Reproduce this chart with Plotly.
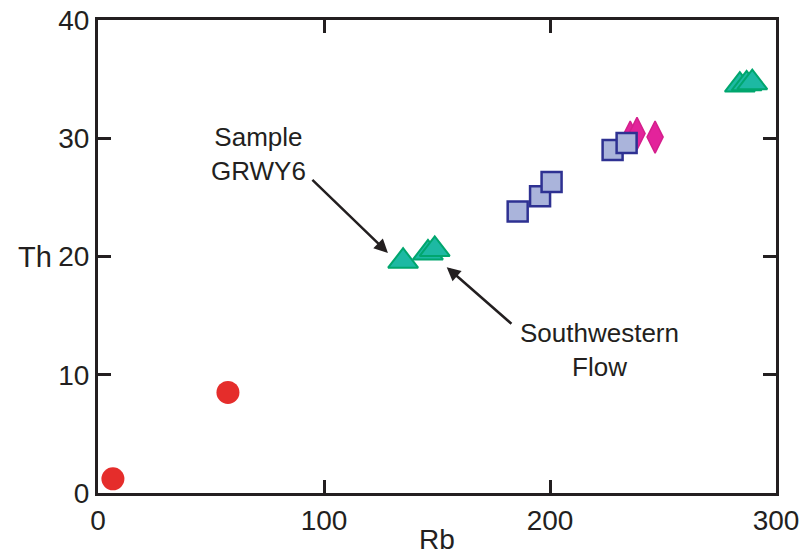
import plotly.graph_objects as go

# Data
circle_rb = [6.6, 57.5]
circle_th = [1.2, 8.5]

tri_rb = [135, 146, 149, 284, 287, 289.5]
tri_th = [19.6, 20.3, 20.6, 34.5, 34.6, 34.7]

diam_rb = [235.5, 238.5, 246.5]
diam_th = [30.1, 30.4, 30.1]

sq_rb = [185.7, 195.6, 200.7, 227.7, 233.9]
sq_th = [23.8, 25.1, 26.3, 29.0, 29.6]

x_ticks = [0, 100, 200, 300]
y_ticks = [0, 10, 20, 30, 40]

FONT = "Liberation Sans, Arial, sans-serif"
INK = "#231F20"

fig = go.Figure()
fig.add_trace(go.Scatter(x=circle_rb, y=circle_th, mode="markers",
                         marker=dict(symbol="circle", size=23, color="#E52D2B",
                                     line=dict(width=0))))
fig.add_trace(go.Scatter(x=tri_rb, y=tri_th, mode="markers",
                         marker=dict(symbol="triangle-up", size=26, color="#1DB9A3",
                                     line=dict(width=2, color="#00A66E"))))
fig.add_trace(go.Scatter(x=diam_rb, y=diam_th, mode="markers",
                         marker=dict(symbol="diamond-tall", size=23, color="#E3239B",
                                     line=dict(width=1.5, color="#D41F8C"))))
fig.add_trace(go.Scatter(x=sq_rb, y=sq_th, mode="markers",
                         marker=dict(symbol="square", size=20, color="#AAB4DB",
                                     line=dict(width=2.5, color="#2E3192"))))

annos = [
    dict(x=128.3, y=20.3, ax=94.2, ay=26.6, xref="x", yref="y", axref="x", ayref="y",
         text="", showarrow=True, arrowhead=2, arrowsize=1.1, arrowwidth=2.5,
         arrowcolor=INK, standoff=0, startstandoff=0),
    dict(x=154.3, y=19.1, ax=183.6, ay=14.2, xref="x", yref="y", axref="x", ayref="y",
         text="", showarrow=True, arrowhead=2, arrowsize=1.1, arrowwidth=2.5,
         arrowcolor=INK, standoff=0, startstandoff=0),
    dict(x=70.8, y=28.7, xref="x", yref="y", text="Sample<br>GRWY6", showarrow=False,
         font=dict(family=FONT, size=26, color=INK), align="center"),
    dict(x=221.7, y=12.1, xref="x", yref="y", text="Southwestern<br>Flow", showarrow=False,
         font=dict(family=FONT, size=26, color=INK), align="center"),
    dict(x=0, y=20, xref="paper", yref="y", text="Th", showarrow=False,
         xanchor="center", xshift=-63, font=dict(family=FONT, size=29, color=INK)),
    dict(x=150, y=0, xref="x", yref="paper", text="Rb", showarrow=False,
         yanchor="middle", yshift=-46, font=dict(family=FONT, size=28, color=INK)),
]

axis_common = dict(showline=True, linewidth=3, linecolor=INK, mirror="ticks",
                   ticks="inside", ticklen=13, tickwidth=3, tickcolor=INK,
                   showgrid=False, zeroline=False,
                   tickfont=dict(family=FONT, size=28, color=INK))

fig.update_layout(
    width=802, height=554,
    margin=dict(l=98, r=26, t=20, b=61, autoexpand=False),
    paper_bgcolor="white", plot_bgcolor="white",
    showlegend=False,
    xaxis=dict(range=[0, 300], tickvals=x_ticks, **axis_common),
    yaxis=dict(range=[0, 40], tickvals=y_ticks, **axis_common),
    annotations=annos,
)

fig.write_html("out.html", config={"displayModeBar": False},
               post_script="document.body.style.margin='0';document.body.style.overflow='hidden';")
